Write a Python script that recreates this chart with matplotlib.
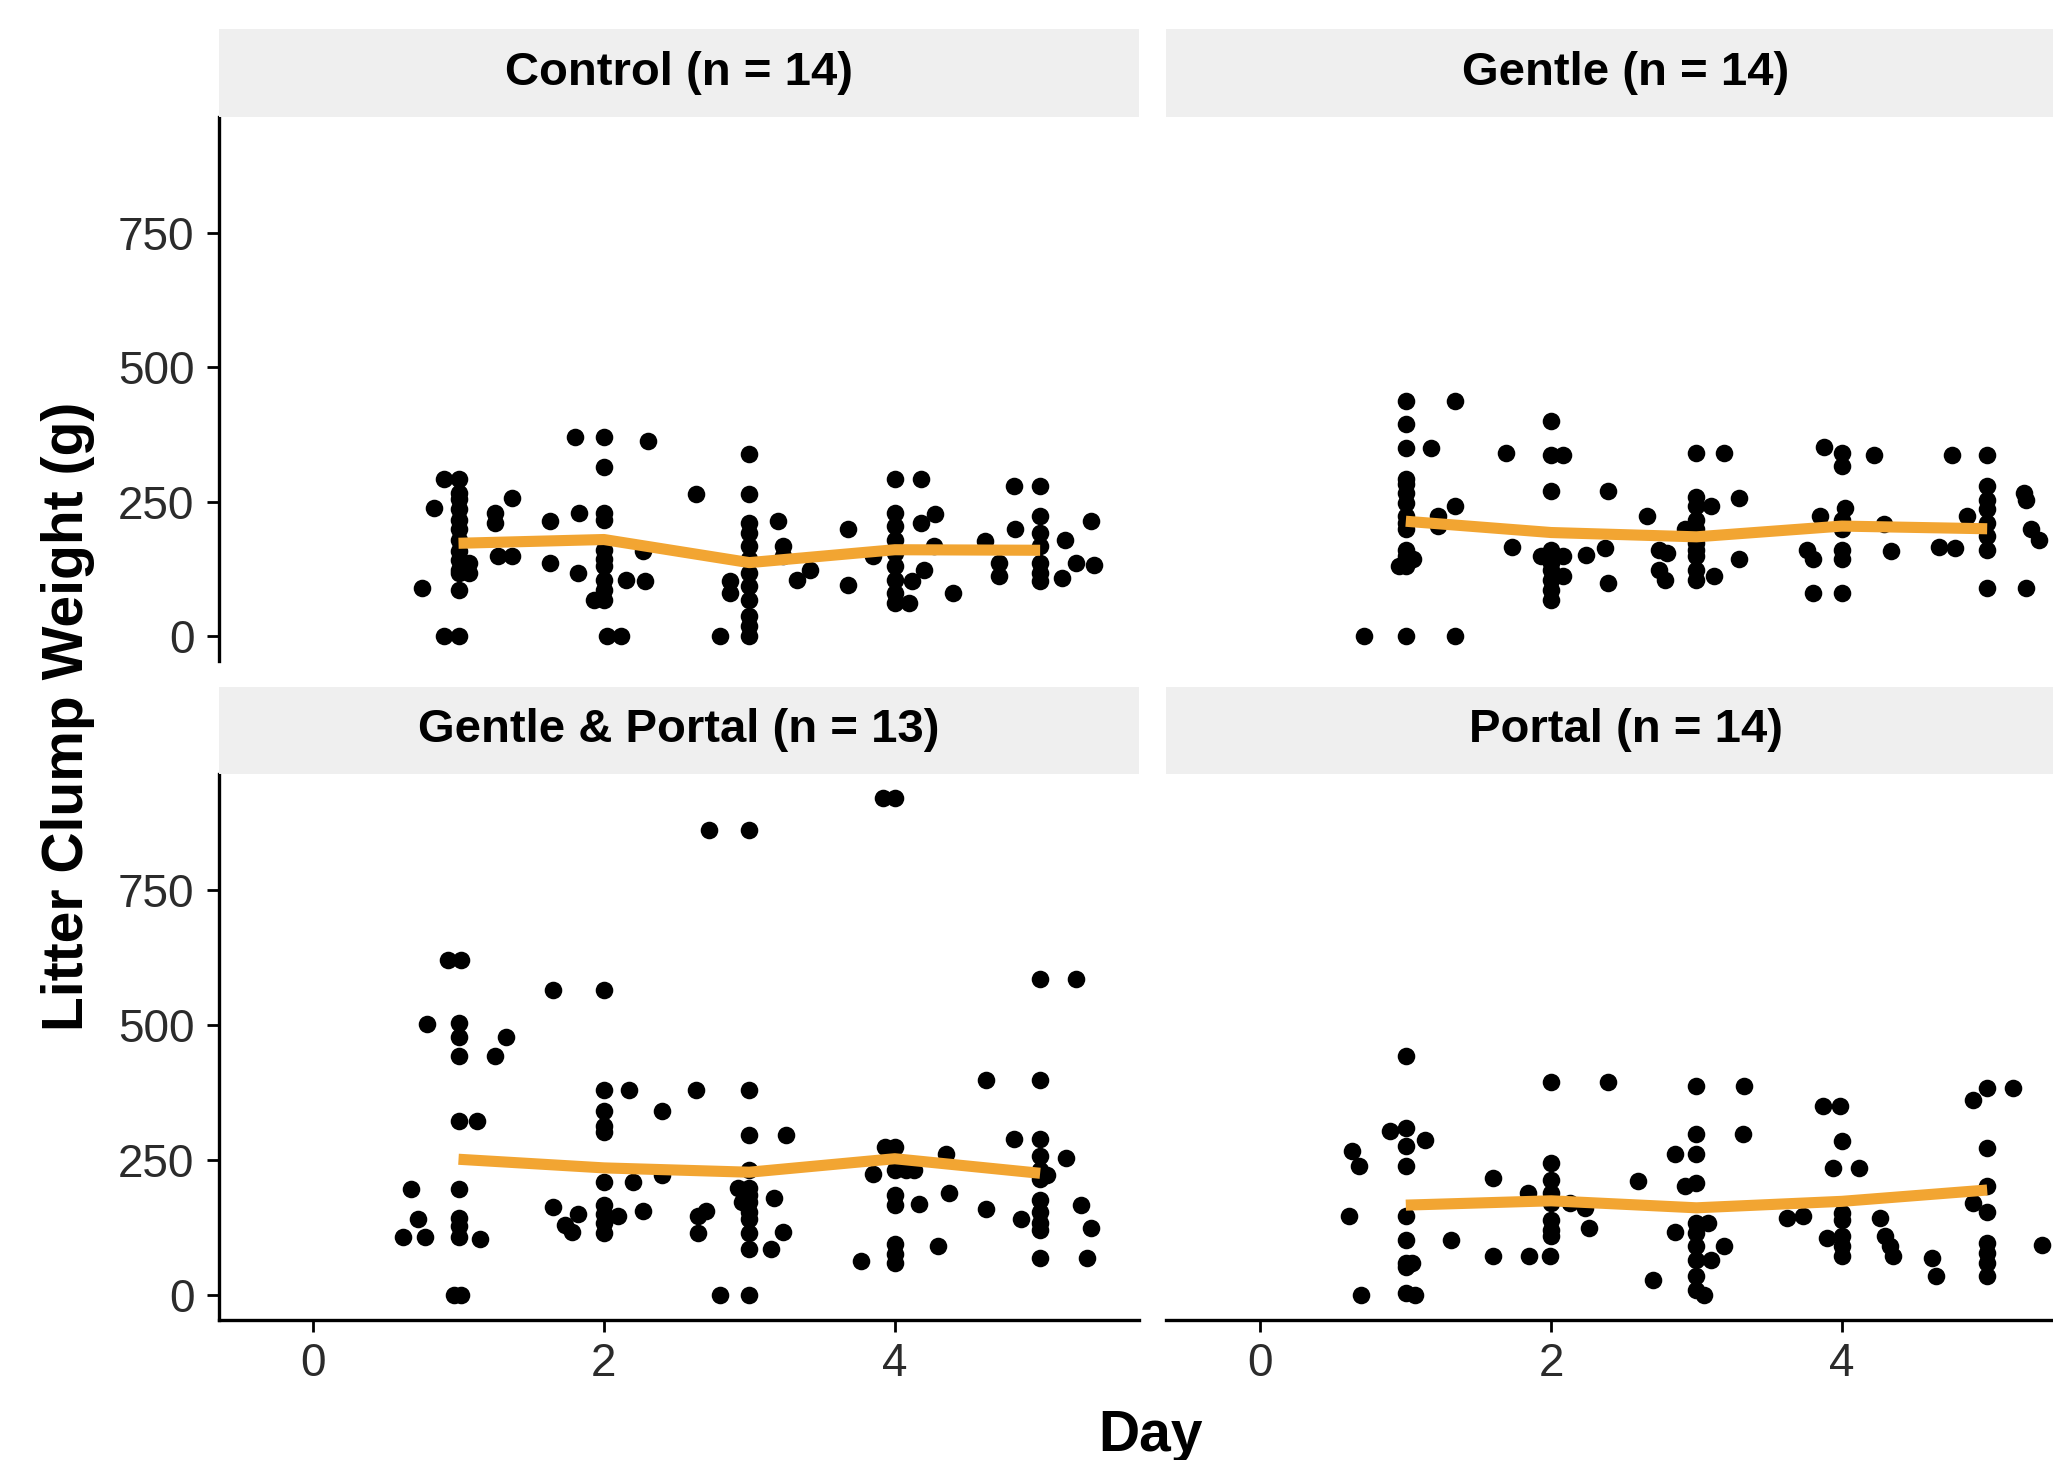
import matplotlib
matplotlib.use("Agg")
import matplotlib.pyplot as plt

plt.rcParams['font.family'] = ['Liberation Sans', 'DejaVu Sans']

# ---- data (jittered day, clump weight in g) ----
days = [1, 2, 3, 4, 5]

control_x = [0.75, 0.83, 0.90, 1.00, 1.00, 1.00, 1.00, 1.00, 1.00, 1.00, 1.00, 1.00, 1.00, 1.00, 1.00, 1.00,
             0.90, 1.07, 1.07, 1.25, 1.25, 1.27, 1.37, 1.37,
             1.63, 1.63, 1.80, 1.83, 1.82, 2.00, 2.00, 2.00, 2.00, 2.00, 2.00, 2.00, 2.00, 2.00, 2.00,
             1.93, 2.02, 2.12, 2.15, 2.27, 2.28, 2.30,
             2.63, 3.00, 3.00, 3.00, 3.00, 3.00, 3.00, 3.00, 3.00, 3.00, 3.00, 3.00, 3.00,
             2.87, 2.87, 2.80, 3.20, 3.23, 3.23, 3.33, 3.42,
             3.68, 3.68, 3.85, 4.00, 4.18, 4.00, 4.00, 4.00, 4.00, 4.00, 4.00, 4.00, 4.00,
             4.10, 4.18, 4.28, 4.27, 4.20, 4.12, 4.40,
             4.62, 4.72, 4.72, 4.82, 5.00, 4.83, 5.00, 5.00, 5.00, 5.00, 5.00, 5.00,
             5.17, 5.15, 5.25, 5.35, 5.37]
control_y = [90, 239, 292, 292, 267, 255, 236, 217, 199, 180, 158, 142, 124, 118, 87, 0,
             0, 136, 118, 230, 211, 149, 149, 258,
             214, 137, 370, 230, 118, 370, 314, 230, 217, 161, 143, 130, 105, 87, 68,
             68, 0, 0, 105, 158, 102, 363,
             264, 339, 264, 211, 193, 168, 143, 118, 93, 68, 37, 19, 0,
             102, 80, 0, 214, 168, 149, 105, 124,
             199, 96, 149, 292, 292, 230, 205, 180, 155, 130, 105, 80, 62,
             62, 211, 227, 168, 124, 102, 80,
             177, 136, 112, 280, 280, 199, 224, 193, 168, 136, 118, 102,
             180, 109, 136, 214, 133]
control_mean = [173, 180, 137, 161, 160]

gentle_x = [0.71, 1.00, 1.34, 1.00, 1.34, 1.00, 1.00, 1.17, 1.00, 1.00, 1.00, 1.00, 1.00, 1.00, 1.00, 1.00,
            1.00, 1.00, 0.95, 1.05, 1.34, 1.22, 1.22,
            1.69, 1.73, 2.00, 2.00, 2.08, 2.00, 2.39, 2.00, 2.00, 2.00, 2.00, 2.00, 2.00, 2.00,
            1.93, 2.08, 2.08, 2.24, 2.37, 2.39,
            2.66, 2.74, 2.80, 2.74, 2.78, 3.00, 3.19, 3.00, 3.00, 3.00, 3.00, 3.00, 3.00, 3.00, 3.00, 3.00,
            3.10, 3.29, 3.29, 3.12, 2.92,
            3.88, 4.00, 4.00, 4.22, 3.85, 4.02, 3.76, 3.80, 4.00, 4.00, 4.00, 4.00, 3.80, 4.00, 4.29, 4.34,
            4.76, 5.00, 4.67, 4.78, 4.86, 5.00, 5.00, 5.00, 5.00, 5.00, 5.00, 5.00, 5.27,
            5.25, 5.27, 5.30, 5.36]
gentle_y = [0, 0, 0, 437, 437, 394, 350, 350, 292, 283, 267, 248, 223, 211, 199, 161,
            149, 130, 130, 143, 242, 223, 205,
            341, 167, 400, 338, 338, 270, 270, 161, 149, 136, 124, 105, 87, 68,
            149, 149, 112, 152, 164, 99,
            223, 161, 155, 124, 105, 341, 341, 260, 242, 217, 199, 174, 161, 149, 124, 105,
            242, 257, 143, 112, 199,
            353, 341, 316, 338, 223, 239, 161, 143, 217, 199, 161, 143, 81, 81, 208, 158,
            338, 338, 167, 164, 223, 279, 254, 236, 211, 186, 161, 90, 90,
            267, 254, 199, 180]
gentle_mean = [214, 193, 185, 205, 200]

gp_x = [0.62, 0.77, 0.72, 0.67, 0.93, 1.02, 0.78, 1.00, 1.00, 1.00, 1.00, 1.00, 1.00, 1.00, 1.00,
        1.13, 1.25, 1.33, 1.15, 0.97, 1.02,
        1.65, 2.00, 1.65, 1.73, 1.78, 1.82, 2.00, 2.00, 2.00, 2.00, 2.00, 2.00, 2.00, 2.00, 2.00,
        2.17, 2.10, 2.20, 2.27, 2.40, 2.40,
        2.63, 3.00, 2.72, 3.00, 2.80, 3.00, 3.00, 3.25, 3.00, 3.00, 3.00, 3.00, 3.00, 3.00, 3.00, 3.00,
        2.92, 2.95, 2.65, 2.70, 2.65, 3.17, 3.23, 3.15,
        3.92, 4.00, 3.93, 4.00, 3.85, 4.00, 4.08, 4.00, 4.00, 4.00, 4.00, 4.00,
        4.13, 4.17, 4.35, 4.37, 4.30, 3.77,
        4.63, 5.00, 5.00, 5.25, 4.82, 5.00, 5.00, 5.00, 5.00, 5.00, 5.00, 5.00, 5.00, 5.00,
        5.18, 4.63, 4.87, 5.28, 5.35, 5.32, 5.05]
gp_y = [107, 107, 140, 195, 621, 621, 501, 504, 478, 442, 322, 195, 143, 127, 107,
        322, 442, 478, 104, 0, 0,
        564, 564, 163, 130, 117, 150, 380, 341, 312, 302, 208, 166, 150, 133, 114,
        380, 146, 208, 156, 341, 221,
        379, 379, 861, 861, 0, 0, 296, 296, 231, 198, 185, 172, 153, 140, 114, 85,
        198, 172, 146, 156, 114, 179, 117, 85,
        920, 920, 273, 273, 224, 231, 231, 185, 166, 94, 75, 59,
        231, 169, 260, 189, 91, 62,
        397, 397, 585, 585, 289, 289, 257, 231, 215, 176, 153, 133, 120, 68,
        254, 159, 140, 166, 124, 68, 221]
gp_mean = [251, 235, 227, 252, 225]

portal_x = [1.00, 0.89, 1.00, 1.13, 0.63, 0.68, 0.61, 1.00, 1.00, 1.00, 1.00, 1.00, 1.00, 1.00,
            0.69, 1.06, 1.31, 1.04,
            2.00, 2.39, 1.60, 1.60, 1.85, 1.99, 1.84, 2.00, 2.00, 2.00, 2.00, 2.00, 2.00, 2.00,
            2.13, 2.23, 2.26,
            3.00, 3.33, 3.32, 2.85, 3.00, 3.00, 2.60, 2.92, 3.00, 3.00, 3.00, 3.00, 3.00, 3.00, 3.00,
            3.05, 2.85, 3.08, 3.19, 3.10, 2.70,
            3.87, 3.99, 4.00, 3.94, 4.12, 3.62, 3.73, 4.00, 4.00, 4.00, 4.00, 4.00,
            3.90, 4.26, 4.30, 4.33, 4.35, 4.62, 4.65,
            4.90, 5.00, 5.18, 5.00, 5.00, 4.90, 5.00, 5.00, 5.00, 5.00, 5.00, 5.38]
portal_y = [442, 303, 309, 287, 266, 238, 145, 275, 238, 145, 102, 59, 52, 3,
            0, 0, 102, 59,
            395, 395, 216, 71, 71, 71, 188, 244, 213, 188, 170, 139, 120, 108,
            170, 161, 124,
            386, 386, 297, 260, 260, 297, 210, 201, 207, 133, 114, 90, 65, 34, 9,
            0, 117, 133, 90, 65, 28,
            349, 349, 284, 235, 235, 142, 145, 151, 139, 108, 90, 71,
            105, 142, 108, 90, 71, 68, 34,
            361, 383, 383, 272, 201, 170, 154, 96, 77, 59, 34, 93]
portal_mean = [166, 174, 161, 173, 194]

panels = [
    ("Control (n = 14)", control_x, control_y, control_mean),
    ("Gentle (n = 14)", gentle_x, gentle_y, gentle_mean),
    ("Gentle & Portal (n = 13)", gp_x, gp_y, gp_mean),
    ("Portal (n = 14)", portal_x, portal_y, portal_mean),
]

# ---- layout in pixels ----
W, H = 2053, 1460
fig = plt.figure(figsize=(W / 100, H / 100), dpi=100)
fig.patch.set_facecolor('white')

col_x = [(218.6, 1139), (1166, 2086)]
row_y = [(117, 661), (773.5, 1319.5)]
strip_y = [(29, 117), (687, 773.5)]


def rect(x0, y0, x1, y1):
    return [x0 / W, 1 - y1 / H, (x1 - x0) / W, (y1 - y0) / H]


for i, (title, xs, ys, means) in enumerate(panels):
    r, c = divmod(i, 2)
    x0, x1 = col_x[c]
    y0, y1 = row_y[r]
    ax = fig.add_axes(rect(x0, y0, x1, y1))
    ax.scatter(xs, ys, s=160, color='black', linewidths=0, zorder=2)
    ax.plot(days, means, color='#F2A532', lw=8, solid_capstyle='butt', zorder=3)
    ax.set_xlim(-0.65, 5.68)
    ax.set_ylim(-46, 966)
    ax.set_xticks([0, 2, 4])
    ax.set_yticks([0, 250, 500, 750])
    for s in ['top', 'right']:
        ax.spines[s].set_visible(False)
    ax.spines['left'].set_visible(c == 0)
    ax.spines['bottom'].set_visible(r == 1)
    for s in ['left', 'bottom']:
        ax.spines[s].set_linewidth(2.4)
    ax.tick_params(axis='y', left=(c == 0), labelleft=(c == 0), length=8.5, width=2,
                   pad=9, labelsize=33, labelcolor='#2b2b2b')
    ax.tick_params(axis='x', bottom=(r == 1), labelbottom=(r == 1), length=8.5, width=2,
                   pad=8, labelsize=33, labelcolor='#2b2b2b')

    sy0, sy1 = strip_y[r]
    sax = fig.add_axes(rect(x0, sy0, x1, sy1))
    sax.set_facecolor('#EFEFEF')
    for s in sax.spines.values():
        s.set_visible(False)
    sax.set_xticks([])
    sax.set_yticks([])
    sax.text(0.5, 0.5, title, ha='center', va='center', fontsize=34,
             fontweight='bold', transform=sax.transAxes)

fig.text(68 / W, 1 - 716 / H, 'Litter Clump Weight (g)', rotation=90,
         ha='center', va='center', fontsize=41, fontweight='bold')
fig.text(1150 / W, 1 - 1436 / H, 'Day', ha='center', va='center',
         fontsize=41, fontweight='bold')

fig.savefig('out.png', dpi=100)
